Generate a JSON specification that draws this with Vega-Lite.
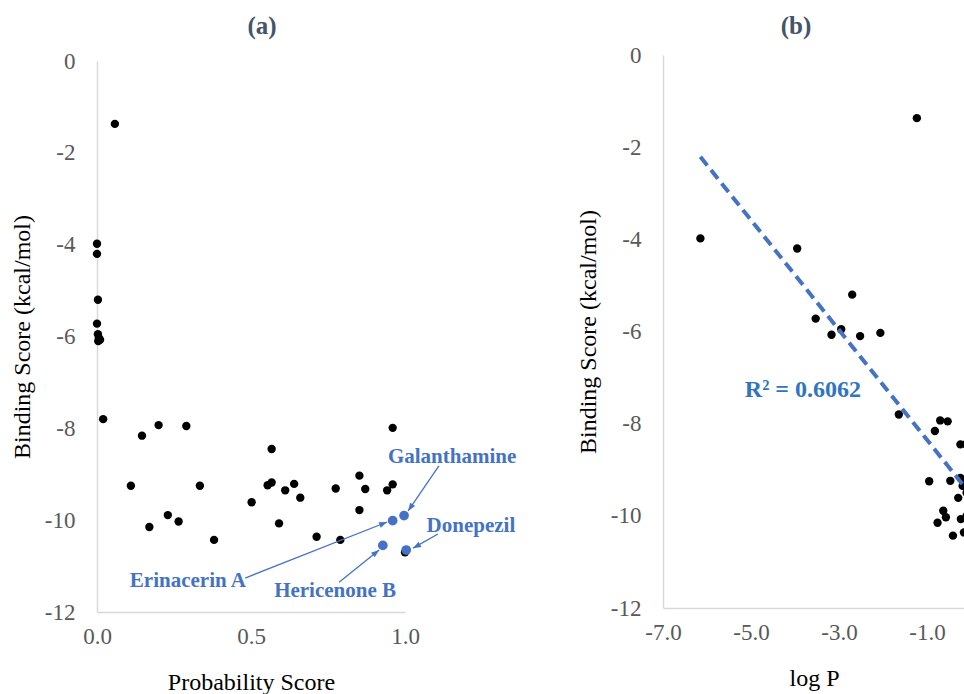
{
  "$schema": "https://vega.github.io/schema/vega-lite/v6.json",
  "padding": {"left": 10, "top": 14, "right": 0, "bottom": 0},
  "background": "white",
  "spacing": 59,
  "config": {
    "font": "Liberation Serif",
    "view": {"stroke": null},
    "axis": {"domainColor": "#D9D9D9", "domainWidth": 1.5, "grid": false, "ticks": false, "tickSize": 0,
      "labelFont": "Liberation Serif", "labelFontSize": 23, "labelColor": "#595959",
      "titleFont": "Liberation Serif", "titleFontSize": 24, "titleFontWeight": "normal", "titleColor": "#000000",
      "labelOverlap": false, "labelFlush": false},
    "title": {"font": "Liberation Serif", "fontSize": 25, "fontWeight": "bold", "color": "#44546A", "frame": "group", "anchor": "middle"}
  },
  "datasets": {
    "ptsA": [
      {"prob": 0.0, "bind": -3.98}, {"prob": 0.0, "bind": -4.2}, {"prob": 0.003, "bind": -5.2},
      {"prob": 0.0, "bind": -5.72}, {"prob": 0.003, "bind": -5.95}, {"prob": 0.006, "bind": -6.03},
      {"prob": 0.01, "bind": -6.07}, {"prob": 0.004, "bind": -6.1}, {"prob": 0.058, "bind": -1.37},
      {"prob": 0.02, "bind": -7.8}, {"prob": 0.146, "bind": -8.16}, {"prob": 0.2, "bind": -7.93},
      {"prob": 0.29, "bind": -7.95}, {"prob": 0.96, "bind": -7.99}, {"prob": 0.567, "bind": -8.45},
      {"prob": 0.11, "bind": -9.25}, {"prob": 0.334, "bind": -9.25}, {"prob": 0.554, "bind": -9.24},
      {"prob": 0.567, "bind": -9.18}, {"prob": 0.611, "bind": -9.35}, {"prob": 0.64, "bind": -9.21},
      {"prob": 0.66, "bind": -9.51}, {"prob": 0.775, "bind": -9.31}, {"prob": 0.852, "bind": -9.03},
      {"prob": 0.871, "bind": -9.32}, {"prob": 0.942, "bind": -9.35}, {"prob": 0.96, "bind": -9.22},
      {"prob": 0.502, "bind": -9.61}, {"prob": 0.852, "bind": -9.78}, {"prob": 0.23, "bind": -9.89},
      {"prob": 0.265, "bind": -10.03}, {"prob": 0.17, "bind": -10.15}, {"prob": 0.591, "bind": -10.07},
      {"prob": 0.38, "bind": -10.43}, {"prob": 0.713, "bind": -10.36}, {"prob": 0.79, "bind": -10.43},
      {"prob": 1.0, "bind": -10.7}
    ],
    "refA": [
      {"name": "Galanthamine", "prob": 0.997, "bind": -9.9},
      {"name": "Erinacerin A", "prob": 0.96, "bind": -10.01},
      {"name": "Hericenone B", "prob": 0.928, "bind": -10.55},
      {"name": "Donepezil", "prob": 1.004, "bind": -10.65}
    ],
    "ann": [
      {"label": "Galanthamine", "tx": 1.153, "ty": -8.63, "x1": 1.11, "y1": -8.82, "x2": 1.01, "y2": -9.8},
      {"label": "Donepezil", "tx": 1.214, "ty": -10.13, "x1": 1.107, "y1": -10.3, "x2": 1.026, "y2": -10.61},
      {"label": "Erinacerin A", "tx": 0.295, "ty": -11.33, "x1": 0.481, "y1": -11.26, "x2": 0.942, "y2": -10.04},
      {"label": "Hericenone B", "tx": 0.773, "ty": -11.55, "x1": 0.786, "y1": -11.35, "x2": 0.916, "y2": -10.65}
    ],
    "ptsB": [
      {"lp": -1.23, "bind": -1.37}, {"lp": -6.15, "bind": -3.98}, {"lp": -3.95, "bind": -4.2},
      {"lp": -2.7, "bind": -5.2}, {"lp": -3.53, "bind": -5.72}, {"lp": -2.95, "bind": -5.95},
      {"lp": -3.17, "bind": -6.07}, {"lp": -2.52, "bind": -6.1}, {"lp": -2.06, "bind": -6.03},
      {"lp": -1.64, "bind": -7.8}, {"lp": -0.7, "bind": -7.93}, {"lp": -0.53, "bind": -7.95},
      {"lp": -0.82, "bind": -8.16}, {"lp": -0.24, "bind": -8.45}, {"lp": -0.95, "bind": -9.25},
      {"lp": -0.47, "bind": -9.24}, {"lp": -0.24, "bind": -9.18}, {"lp": -0.29, "bind": -9.61},
      {"lp": -0.63, "bind": -9.89}, {"lp": -0.57, "bind": -10.03}, {"lp": -0.76, "bind": -10.15},
      {"lp": -0.23, "bind": -10.07}, {"lp": -0.41, "bind": -10.43}, {"lp": -0.16, "bind": -10.36},
      {"lp": -0.19, "bind": -9.35}, {"lp": -0.12, "bind": -9.3}, {"lp": -0.1, "bind": -9.5},
      {"lp": -0.1, "bind": -10.0}, {"lp": -0.12, "bind": -8.45}
    ],
    "trend": [{"lp": -6.15, "bind": -2.21}, {"lp": 0.5, "bind": -10.14}],
    "r2": [{"label": "R² = 0.6062", "lp": -3.82, "bind": -7.27}]
  },
  "hconcat": [
    {
      "width": 308, "height": 557,
      "title": {"text": "(a)", "dx": 11, "offset": 11},
      "layer": [
        {
          "data": {"name": "ptsA"},
          "mark": {"type": "circle", "size": 70, "color": "#000000", "opacity": 1},
          "encoding": {
            "x": {"field": "prob", "type": "quantitative", "scale": {"domain": [0, 1], "nice": false, "zero": false},
              "axis": {"values": [0, 0.5, 1], "format": ".1f", "title": "Probability Score", "labelPadding": 13, "titlePadding": 22}},
            "y": {"field": "bind", "type": "quantitative", "scale": {"domain": [-12, 0], "nice": false, "zero": false, "rangeMax": 6},
              "axis": {"values": [0, -2, -4, -6, -8, -10, -12], "labelExpr": "replace(datum.label, '−', '-')", "title": "Binding Score (kcal/mol)", "labelPadding": 22, "titlePadding": 10}}
          }
        },
        {
          "data": {"name": "refA"},
          "mark": {"type": "circle", "size": 95, "color": "#4472C4", "opacity": 1},
          "encoding": {"x": {"field": "prob", "type": "quantitative"}, "y": {"field": "bind", "type": "quantitative"}}
        },
        {
          "data": {"name": "ann"},
          "mark": {"type": "rule", "color": "#4472C4", "strokeWidth": 1.3},
          "encoding": {"x": {"field": "x1", "type": "quantitative"}, "y": {"field": "y1", "type": "quantitative"}, "x2": {"field": "x2"}, "y2": {"field": "y2"}}
        },
        {
          "data": {"name": "ann"},
          "transform": [{"filter": "datum.label == 'Galanthamine'"}],
          "mark": {"type": "point", "shape": "M0,0L0.6,1.6L-0.6,1.6Z", "filled": true, "size": 100, "color": "#4472C4", "opacity": 1, "angle": 214.6},
          "encoding": {"x": {"field": "x2", "type": "quantitative"}, "y": {"field": "y2", "type": "quantitative"}}
        },
        {
          "data": {"name": "ann"},
          "transform": [{"filter": "datum.label == 'Donepezil'"}],
          "mark": {"type": "point", "shape": "M0,0L0.6,1.6L-0.6,1.6Z", "filled": true, "size": 100, "color": "#4472C4", "opacity": 1, "angle": 240.75},
          "encoding": {"x": {"field": "x2", "type": "quantitative"}, "y": {"field": "y2", "type": "quantitative"}}
        },
        {
          "data": {"name": "ann"},
          "transform": [{"filter": "datum.label == 'Erinacerin A'"}],
          "mark": {"type": "point", "shape": "M0,0L0.6,1.6L-0.6,1.6Z", "filled": true, "size": 100, "color": "#4472C4", "opacity": 1, "angle": 68.5},
          "encoding": {"x": {"field": "x2", "type": "quantitative"}, "y": {"field": "y2", "type": "quantitative"}}
        },
        {
          "data": {"name": "ann"},
          "transform": [{"filter": "datum.label == 'Hericenone B'"}],
          "mark": {"type": "point", "shape": "M0,0L0.6,1.6L-0.6,1.6Z", "filled": true, "size": 100, "color": "#4472C4", "opacity": 1, "angle": 51.3},
          "encoding": {"x": {"field": "x2", "type": "quantitative"}, "y": {"field": "y2", "type": "quantitative"}}
        },
        {
          "data": {"name": "ann"},
          "mark": {"type": "text", "font": "Liberation Serif", "fontWeight": "bold", "fontSize": 21, "color": "#4472C4"},
          "encoding": {"x": {"field": "tx", "type": "quantitative"}, "y": {"field": "ty", "type": "quantitative"}, "text": {"field": "label"}}
        }
      ]
    },
    {
      "width": 302, "height": 553,
      "title": {"text": "(b)", "dx": -18, "offset": 5},
      "layer": [
        {
          "data": {"name": "ptsB"},
          "mark": {"type": "circle", "size": 70, "color": "#000000", "opacity": 1, "clip": true},
          "encoding": {
            "x": {"field": "lp", "type": "quantitative", "scale": {"domain": [-7, -0.136], "nice": false, "zero": false},
              "axis": {"values": [-7, -5, -3, -1], "format": ".1f", "labelExpr": "replace(datum.label, '−', '-')", "title": "log P", "labelPadding": 13, "titlePadding": 22}},
            "y": {"field": "bind", "type": "quantitative", "scale": {"domain": [-12, 0], "nice": false, "zero": false},
              "axis": {"values": [0, -2, -4, -6, -8, -10, -12], "labelExpr": "replace(datum.label, '−', '-')", "title": "Binding Score (kcal/mol)", "labelPadding": 22, "titlePadding": 10}}
          }
        },
        {
          "data": {"name": "trend"},
          "mark": {"type": "line", "color": "#4472C4", "strokeWidth": 4, "strokeDash": [11, 6], "clip": true},
          "encoding": {"x": {"field": "lp", "type": "quantitative"}, "y": {"field": "bind", "type": "quantitative"}}
        },
        {
          "data": {"name": "r2"},
          "mark": {"type": "text", "font": "Liberation Serif", "fontWeight": "bold", "fontSize": 24, "color": "#2F75C0"},
          "encoding": {"x": {"field": "lp", "type": "quantitative"}, "y": {"field": "bind", "type": "quantitative"}, "text": {"field": "label"}}
        }
      ]
    }
  ]
}
